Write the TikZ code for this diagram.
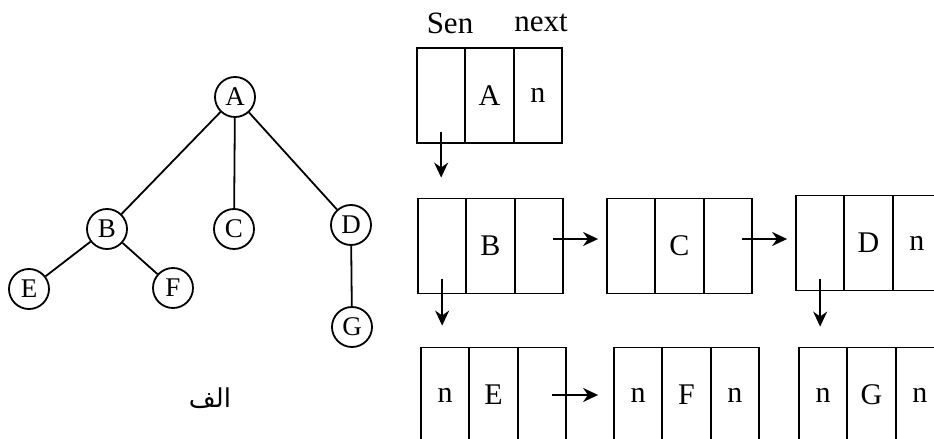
\documentclass[tikz,border=0pt]{standalone}
\usepackage{fontspec}
\usepackage{tikz}
\usetikzlibrary{arrows.meta}
\setmainfont{Liberation Serif}
\newfontfamily\arabicfont[Script=Arabic]{DejaVu Sans}
\TeXXeTstate=1

\begin{document}
\begin{tikzpicture}[x=0.5pt,y=-0.5pt,line width=0.9pt,
  vert/.style={draw,circle,minimum size=20pt,inner sep=0pt,font=\fontsize{13.5}{15}\selectfont},
  cell/.style={draw,minimum width=24.15pt,minimum height=47.5pt,inner sep=0pt,font=\fontsize{15}{17}\selectfont},
  link/.style={-{Stealth[length=7.5pt,width=7pt]}}]
 \useasboundingbox (0,0) rectangle (934,439);
 \clip (0,0) rectangle (934,439);
 % tree
 \node[vert] (a) at (235,97) {A};
 \node[vert] (b) at (107,229) {B};
 \node[vert] (c) at (234,229) {C};
 \node[vert] (d) at (351,225) {D};
 \node[vert] (e) at (29,289) {E};
 \node[vert] (f) at (173,288) {F};
 \node[vert] (g) at (352,327) {G};
 \draw (a) -- (b);
 \draw (a) -- (c);
 \draw (a) -- (d);
 \draw (b) -- (e);
 \draw (b) -- (f);
 \draw (d) -- (g);
 \node[font=\arabicfont\fontsize{13}{15}\selectfont] (cap) at (210,398) {\beginR الف\endR};
 % lists
 \node[font=\fontsize{15.5}{17}\selectfont] (sen) at (450,23) {Sen};
 \node[font=\fontsize{15.5}{17}\selectfont] (nxt) at (541,23) {next};
 \foreach \n/\x/\y/\p/\q/\r in {A/417/95.5//A/n, B/418/246//B/, C/607/246//C/,
   D/796/243//D/n, E/421/395/n/E/, F/614/395/n/F/n, G/799/395/n/G/n}
   \foreach \k/\t in {1/\p,2/\q,3/\r}
     \node[cell] (\n\k) at (\x+48.3*\k-24.15,\y) {\t};
 \draw[link,shorten <=-6pt,shorten >=10pt] (A1.south) -- (A1.south |- B1.north);
 \draw[link,shorten <=-7.5pt,shorten >=10.5pt] (B1.south) -- (B1.south |- E1.north);
 \draw[link,shorten <=-6pt,shorten >=10pt] (D1.south) -- (D1.south |- G1.north);
 \draw[link,shorten <=-5.5pt,shorten >=4pt] ([yshift=3.5pt]B3.east) -- ([yshift=3.5pt]B3.east -| C1.west);
 \draw[link,shorten <=-5.5pt,shorten >=4pt] ([yshift=3.5pt]C3.east) -- ([yshift=3.5pt]C3.east -| D1.west);
 \draw[link,shorten <=-7.5pt,shorten >=7.5pt] (E3.east) -- (E3.east -| F1.west);
\end{tikzpicture}
\end{document}
